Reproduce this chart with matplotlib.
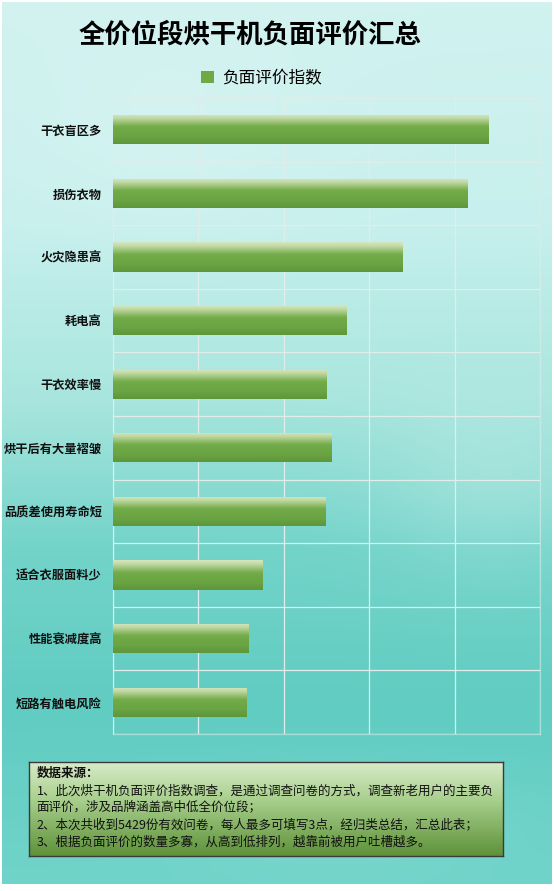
import matplotlib
matplotlib.use('Agg')
import matplotlib.pyplot as plt
import numpy as np
from matplotlib.colors import LinearSegmentedColormap
from matplotlib.patches import Rectangle

plt.rcParams['font.family'] = ['Noto Sans CJK SC', 'DejaVu Sans']

# data
categories = ['干衣盲区多', '损伤衣物', '火灾隐患高', '耗电高', '干衣效率慢',
              '烘干后有大量褶皱', '品质差使用寿命短', '适合衣服面料少',
              '性能衰减度高', '短路有触电风险']
values = [44.0, 41.5, 33.9, 27.3, 25.0, 25.6, 24.9, 17.5, 15.9, 15.6]
series_name = '负面评价指数'
title = '全价位段烘干机负面评价汇总'
note_title = '数据来源：'
note_lines = [
    '1、此次烘干机负面评价指数调查，是通过调查问卷的方式，调查新老用户的主要负',
    '面评价，涉及品牌涵盖高中低全价位段；',
    '2、本次共收到5429份有效问卷，每人最多可填写3点，经归类总结，汇总此表；',
    '3、根据负面评价的数量多寡，从高到低排列，越靠前被用户吐槽越多。',
]

W, H = 554, 891
fig = plt.figure(figsize=(W / 100, H / 100), dpi=100, facecolor='white')

# background wash
bg = fig.add_axes([2 / W, 7 / H, 1 - 4 / W, 1 - 9 / H], zorder=-10)
ny, nx = 300, 180
yy, xx = np.mgrid[0:1:ny * 1j, 0:1:nx * 1j]
stops_t = [0.0, 0.25, 0.45, 0.62, 0.8, 1.0]
stops_c = np.array([[0.82, 0.95, 0.94], [0.78, 0.94, 0.93], [0.66, 0.90, 0.87],
                    [0.45, 0.83, 0.79], [0.38, 0.80, 0.76], [0.44, 0.83, 0.79]])
img = np.zeros((ny, nx, 3))
for k in range(3):
    img[..., k] = np.interp(yy, stops_t, stops_c[:, k])
# soft lighter patches
cloud = 0.6 * np.exp(-(((xx - 0.9) / 0.2) ** 2 + ((yy - 0.55) / 0.1) ** 2))
cloud += 0.5 * np.exp(-(((xx - 0.3) / 0.3) ** 2 + ((yy - 0.15) / 0.12) ** 2))
cloud += 0.4 * np.exp(-(((xx - 0.6) / 0.3) ** 2 + ((yy - 0.93) / 0.05) ** 2))
img = img + (1 - img) * 0.3 * np.clip(cloud, 0, 1)[..., None]
bg.imshow(img, aspect='auto', extent=(0, 1, 0, 1), origin='upper')
bg.set_axis_off()

# main chart
ax = fig.add_axes([113 / W, 1 - 734 / H, 427 / W, 636 / H])
ax.set_facecolor('none')
y = np.arange(len(categories))
bar_h = 0.46
bars = ax.barh(y, values, height=bar_h, color='#6aa443', zorder=2)

bar_cmap = LinearSegmentedColormap.from_list(
    'bar', [(0.0, '#d6e6c0'), (0.12, '#c3daa6'), (0.42, '#72ab48'),
            (0.75, '#6aa443'), (1.0, '#5e963a')])
grad = np.linspace(0, 1, 64)[:, None]
for b in bars:
    x0, y0 = b.get_x(), b.get_y()
    im = ax.imshow(grad, cmap=bar_cmap, aspect='auto', origin='upper',
                   extent=(x0, x0 + b.get_width(), y0 + b.get_height(), y0),
                   zorder=3, interpolation='bicubic')
    im.set_clip_path(b)

ax.set_xlim(0, 50)
ax.set_ylim(len(categories) - 0.5, -0.5)
ax.set_xticks(np.arange(0, 51, 10))
ax.set_yticks(y)
ax.set_yticks(np.arange(-0.5, len(categories), 1), minor=True)
ax.set_yticklabels(categories, fontsize=8.8, fontweight='bold', color='#111111')
ax.set_xticklabels([])
ax.tick_params(axis='both', which='both', length=0)
ax.tick_params(axis='y', pad=8)
grid_c = (0.88, 0.93, 0.92, 0.55)
ax.grid(axis='x', which='major', color=grid_c, linewidth=0.9, zorder=0)
ax.grid(axis='y', which='minor', color=grid_c, linewidth=0.9, zorder=0)
for s in ax.spines.values():
    s.set_color(grid_c)
    s.set_linewidth(0.9)

# title and legend
fig.text(0.452, 0.961, title, ha='center', va='center', fontsize=19,
         fontweight='black', color='black')
handle = Rectangle((0, 0), 1, 1, facecolor='#70a846', edgecolor='none')
fig.legend([handle], [series_name], loc='center', bbox_to_anchor=(0.472, 0.912),
           frameon=False, fontsize=12, handlelength=0.8, handleheight=0.8,
           handletextpad=0.5)

# note box
nax = fig.add_axes([29 / W, 1 - 856 / H, 474 / W, 94 / H])
box_cmap = LinearSegmentedColormap.from_list(
    'box', [(0.0, '#d9ebc9'), (0.4, '#a9d08e'), (1.0, '#5f923a')])
nax.imshow(np.linspace(0, 1, 64)[:, None], cmap=box_cmap, aspect='auto',
           extent=(0, 1, 0, 1), origin='upper')
nax.set_xlim(0, 1)
nax.set_ylim(0, 1)
nax.set_xticks([])
nax.set_yticks([])
for s in nax.spines.values():
    s.set_color('#3a3a3a')
    s.set_linewidth(1.0)
nax.text(0.016, 0.883, note_title, transform=nax.transAxes, ha='left',
         va='center', fontsize=9.0, fontweight='bold', color='#111111')
line_y = [0.691, 0.521, 0.330, 0.149]
for ly, line in zip(line_y, note_lines):
    nax.text(0.016, ly, line, transform=nax.transAxes, ha='left', va='center',
             fontsize=9.0, color='#111111')

fig.savefig('out.png', dpi=100, facecolor='white')
